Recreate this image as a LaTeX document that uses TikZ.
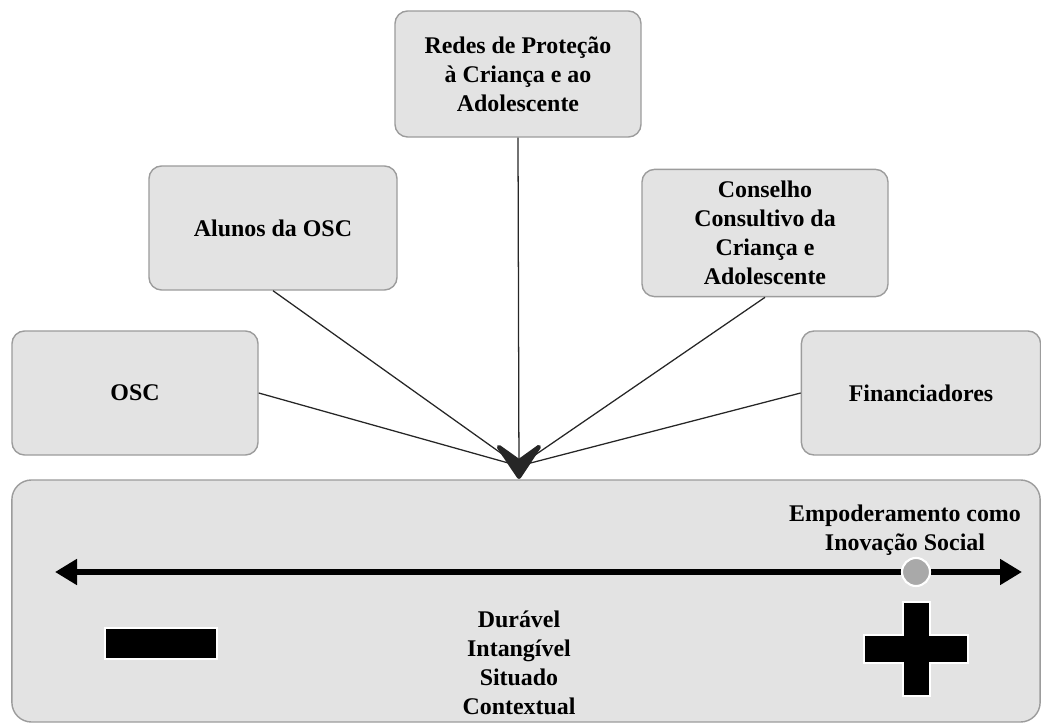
\documentclass[tikz,border=0pt]{standalone}
\usepackage{fontspec}
\setmainfont{Liberation Serif}
\usepackage{xcolor}
\usetikzlibrary{arrows.meta,positioning,calc}
\definecolor{boxfill}{HTML}{E3E3E3}
\definecolor{boxline}{HTML}{9C9C9C}
\definecolor{dotgrey}{HTML}{A9A9A9}

\begin{document}
\begin{tikzpicture}[
  x=0.025cm,y=-0.025cm,
  every node/.style={font=\fontsize{17}{20.6}\selectfont\bfseries},
  actor/.style={rectangle,draw=boxline,line width=1pt,rounded corners=9pt,
                fill=boxfill,minimum width=6.15cm,minimum height=3.1cm,
                align=center,inner sep=2pt},
  scalebox/.style={actor,rounded corners=14pt,minimum width=25.7cm,minimum height=6.05cm},
  link/.style={line width=0.9pt,draw=black!85},
  downlink/.style={link,-{Stealth[length=1.05cm,width=1.4cm,inset=0.5cm,line width=3pt,round=false]}},
  axisline/.style={line width=4.2pt,{Triangle[length=0.55cm,width=0.62cm]}-{Triangle[length=0.55cm,width=0.62cm]}},
  signshape/.style={fill=black,draw=white,line width=1.6pt}
]
\useasboundingbox (0,0) rectangle (1041,727);

%% ---- scale at the bottom ----
\node[scalebox] (base) at (526,601) {};

%% ---- actors ----
\node[actor] (osc)  at (135,393) {OSC};
\node[actor,minimum width=6.2cm] (alunos) at (273,228) {Alunos da OSC};
\node[actor,minimum height=3.15cm] (redes) at (518,74)
    {Redes de Proteção\\ à Criança e ao\\ Adolescente};
\node[actor,minimum height=3.18cm] (conselho) at (765,233)
    {Conselho\\ Consultivo da\\ Criança e\\ Adolescente};
\node[actor,minimum width=5.98cm] (fin) at (921,393) {Financiadores};

%% ---- convergence ----
\coordinate (hub) at (519,466);
\coordinate (tip) at (519,479);
\foreach \src/\anc in {osc/east,alunos/south,conselho/south,fin/west}{
  \draw[link] (\src.\anc) -- (hub);
}
\draw[downlink] (redes.south) -- (tip);

%% ---- axis ----
\coordinate (lo) at (55,572);
\coordinate (hi) at (1022,572);
\draw[axisline] (lo) -- (hi);
\node[circle,fill=dotgrey,draw=white,line width=1.5pt,minimum size=0.7cm,inner sep=0pt] (dot) at (916,572) {};
\node[align=center,inner sep=0pt] (emp) at (905,530)
    {Empoderamento como\\ Inovação Social};

%% ---- signs ----
\draw[signshape] (105,628) rectangle (217,659);
\draw[signshape] (903,602) -- (930,602) -- (930,635) -- (968,635) -- (968,663) -- (930,663)
  -- (930,696) -- (903,696) -- (903,663) -- (864,663) -- (864,635) -- (903,635) -- cycle;

\node[align=center] (traits) at (519,663) {Durável\\ Intangível\\ Situado\\ Contextual};

\end{tikzpicture}
\end{document}
